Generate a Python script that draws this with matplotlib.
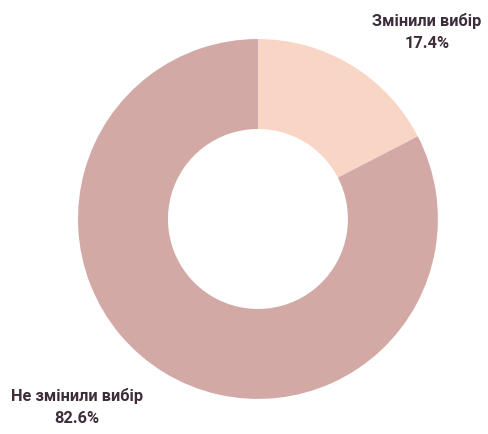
import matplotlib.pyplot as plt

labels = ["Змінили вибір", "Не змінили вибір"]
values = [17.4, 82.6]
colors = ["#F9D5C6", "#D3A9A6"]

fig = plt.figure(figsize=(4.89, 4.35), dpi=100)
ax = fig.add_axes([0.1595, 0.0805, 0.736, 0.8276])

ax.pie(values, colors=colors, startangle=90, counterclock=False,
       radius=1.0, wedgeprops=dict(width=0.5, linewidth=0))
ax.set_xlim(-1, 1)
ax.set_ylim(-1, 1)
ax.set_aspect("equal")

text_style = dict(ha="center", va="center", fontsize=11.8, fontweight="bold",
                  color="#3D2C3A", family="Roboto", linespacing=1.6, clip_on=False)
ax.text(0.94, 1.045, f"{labels[0]}\n{values[0]}%", **text_style)
ax.text(-1.005, -1.04, f"{labels[1]}\n{values[1]}%", **text_style)

fig.savefig("out.png", dpi=100)
